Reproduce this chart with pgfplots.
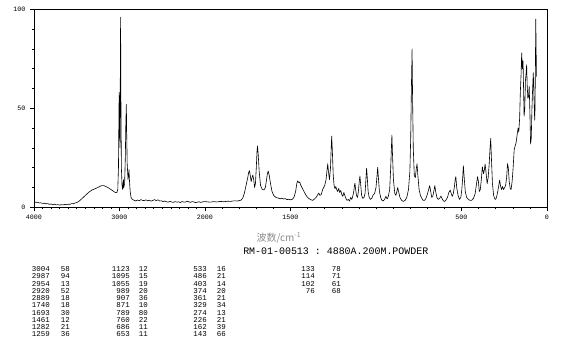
\documentclass[border=0pt]{standalone}
\usepackage{fontspec}
\setmainfont{Liberation Serif}
\setmonofont{Liberation Mono}
\newfontfamily\cjk{Noto Sans CJK SC}
\usepackage{pgfplots}
\pgfplotsset{compat=1.18}
\definecolor{lblgray}{RGB}{140,140,140}
\begin{document}
\begin{tikzpicture}
\useasboundingbox (0,0) rectangle (427.5pt,259.5pt);
\begin{axis}[
  at={(25.5pt,104.0pt)}, anchor=south west,
  scale only axis, width=384.75pt, height=148.5pt,
  x coord trafo/.code={\pgfmathparse{#1>2000 ? 2000+(#1-2000)/2 : #1}},
  x coord inv trafo/.code={\pgfmathparse{#1>2000 ? 2000+2*(#1-2000) : #1}},
  x dir=reverse,
  xmin=0, xmax=4000, ymin=0, ymax=100,
  xtick={0,500,1500,2000,3000,4000},
  xticklabels={0,500,1500,2000,3000,4000},
  minor xtick={100,200,300,400,600,700,800,900,1000,1100,1200,1300,1400,1600,1700,1800,1900,2100,2200,2300,2400,2500,2600,2700,2800,2900,3100,3200,3300,3400,3500,3600,3700,3800,3900},
  ytick={0,50,100}, yticklabels={0,50,100},
  minor ytick={10,20,30,40,60,70,80,90},
  xtick pos=lower, ytick pos=left,
  tick align=outside,
  major tick length=3pt, minor tick length=1.6pt,
  every tick/.style={black, line width=0.4pt},
  axis line style={line width=0.45pt},
  tick label style={font=\fontsize{5}{6}\selectfont\ttfamily},
  xticklabel style={yshift=1pt},
]
\addplot[black, line width=0.45pt, line join=round] table {
x y
4000 2.8
3980 2.5
3960 2.6
3940 2.2
3920 2.3
3900 2.0
3880 2.1
3860 1.8
3840 1.9
3820 1.5
3800 1.7
3780 1.3
3760 1.6
3740 1.2
3720 1.4
3700 1.1
3680 1.4
3660 1.2
3640 1.5
3620 1.3
3600 1.6
3580 1.5
3560 1.9
3540 1.8
3520 2.2
3500 2.4
3480 2.9
3460 3.6
3440 4.4
3420 5.2
3400 6.0
3380 6.8
3360 7.6
3340 8.2
3320 8.8
3300 9.1
3280 9.5
3260 9.9
3240 10.3
3220 10.8
3200 11.0
3180 10.9
3160 10.5
3140 10.1
3120 9.6
3100 9.0
3080 8.4
3060 7.8
3045 7.4
3030 7.6
3020 9
3012 20
3008 40
3004 58
3001 50
2995 30
2990 70
2987 96
2984 60
2978 20
2970 11
2963 9
2957 12
2954 14
2950 10
2940 12
2932 25
2926 42
2920 52
2916 38
2910 22
2900 14
2893 17
2889 19
2884 14
2875 8
2865 5
2850 4.0
2830 3.6
2810 3.2
2790 3.7
2770 3.3
2750 3.9
2730 3.5
2710 3.4
2690 3.8
2670 3.3
2650 3.6
2630 3.1
2610 3.5
2590 3.9
2570 3.4
2550 3.8
2530 3.2
2510 3.3
2490 2.9
2470 3.2
2450 2.8
2430 2.6
2410 3.0
2390 2.7
2370 2.5
2350 2.9
2330 2.6
2310 2.8
2290 2.4
2270 2.9
2250 2.7
2230 2.6
2210 3.1
2190 2.8
2170 2.5
2150 2.9
2130 2.7
2110 2.4
2090 2.6
2070 2.8
2050 2.5
2030 2.7
2010 2.9
1990 2.8
1970 2.6
1950 2.9
1930 2.7
1910 3.0
1890 2.8
1870 3.1
1850 3.0
1830 3.3
1810 3.2
1790 3.6
1780 4.5
1770 7
1760 11
1750 15
1745 17.5
1740 18.5
1735 16
1730 13
1725 15
1720 16.3
1715 14
1710 10
1705 12
1700 20
1696 28
1693 31
1689 27
1683 18
1675 11
1665 9
1655 8.8
1647 10
1640 14
1635 17
1630 18.3
1624 16
1617 12
1608 8
1598 6
1585 5
1570 4.6
1560 4.3
1550 4.6
1540 4.2
1530 4.4
1520 3.9
1510 4.1
1500 3.8
1490 4.0
1480 5.0
1470 8
1463 12
1458 13.4
1452 12.5
1446 12.8
1440 11.2
1430 9.5
1420 7.8
1410 6.2
1400 5.0
1390 4.3
1380 3.8
1370 3.5
1360 4.2
1350 5.0
1340 6.5
1335 7.2
1328 6.0
1320 6.5
1312 9.0
1300 11.0
1292 14
1286 19
1282 22
1278 18
1272 14
1266 20
1262 30
1259 36
1255 28
1250 16
1245 11
1240 9.5
1235 10.5
1230 9.0
1224 8.0
1218 9.5
1212 7.5
1206 8.5
1200 6.5
1194 5.5
1188 7.5
1182 6.0
1176 4.5
1170 3.5
1162 4.0
1155 3.2
1148 5.0
1142 4.0
1136 5.5
1130 8
1126 11
1123 12.2
1119 9
1114 6
1108 5
1103 8
1098 13
1094 15.8
1090 12
1084 6
1077 4.5
1070 5.0
1064 7
1059 14
1055 19.7
1051 15
1046 8
1040 5
1032 4
1025 4.5
1018 6
1008 7
1000 10
994 16
990 20.2
986 15
980 8
972 4.8
965 3.5
958 3.2
950 4.0
942 5.5
935 4.2
928 5.5
920 9
914 20
910 30
907 36.5
904 28
898 14
890 7
884 6
878 8
873 10
868 8
860 5
850 3.5
840 3.0
830 3.5
820 5
810 9
802 18
797 35
793 60
789 80
786 55
782 30
776 16
770 15
765 19
760 22
756 17
748 9
740 6
732 4.5
724 3.5
716 3.5
708 4.5
700 6.5
692 9
686 11
680 8
674 5
668 5.5
662 8
656 11
651 8
644 5
636 4
628 4.5
620 5.7
613 4.3
605 3.2
598 3.0
590 3.8
582 5
574 7.5
566 8.7
560 7
554 5.5
548 7
542 10
537 14
533 15.5
528 10
520 6
512 4
504 5
498 9
493 15
489 21
485 16
478 8
470 5
460 4
450 3.5
440 3.6
430 4.5
420 7
412 12
406 15.5
401 13
396 8
390 9
384 14
378 20.5
371 17
366 19
362 21.9
357 18
350 12
344 15
338 22
333 30
329 34.8
325 25
319 12
312 6
305 4.2
300 4
294 5.5
288 8
282 11
277 13.8
272 11
266 9
260 10.5
254 9
248 10
242 11
236 15
231 22
226 20
221 13
215 9.5
210 9
204 13
198 20
192 29
186 31
180 33
174 37
169 40
165 38
160 45
156 58
152 66
148 78
144 70
140 74
137 60
134 46
130 50
126 64
122 68
119 72
116 62
112 55
108 56
104 61
100 48
96 32
92 35
88 50
84 60
80 68
76 55
72 44
70 50
67 80
66 95
64 85
62 66
};
\end{axis}
\begin{scope}[x=0.75pt,y=-0.75pt,shift={(0,259.5pt)}]
\node[text=lblgray, font=\fontsize{7.5}{9}\selectfont\cjk, inner sep=0] at (279,238) {波数/cm\textsuperscript{-1}};
\node[font=\fontsize{7.46}{9}\selectfont\ttfamily, inner sep=0, anchor=base west] at (243,254.5) {RM-01-00513 : 4880A.200M.POWDER};
\tikzset{tab/.style={font=\fontsize{5.6}{5.44}\selectfont\ttfamily, inner sep=0, anchor=base east}}
\node[tab] at (50,271.5) {\begin{tabular}[t]{@{}r@{}}3004\\2987\\2954\\2920\\2889\\1740\\1693\\1461\\1282\\1259\end{tabular}};
\node[tab] at (70,271.5) {\begin{tabular}[t]{@{}r@{}}58\\94\\13\\52\\18\\18\\30\\12\\21\\36\end{tabular}};
\node[tab] at (130,271.5) {\begin{tabular}[t]{@{}r@{}}1123\\1095\\1055\\989\\907\\871\\789\\760\\686\\653\end{tabular}};
\node[tab] at (148,271.5) {\begin{tabular}[t]{@{}r@{}}12\\15\\19\\20\\36\\10\\80\\22\\11\\11\end{tabular}};
\node[tab] at (207,271.5) {\begin{tabular}[t]{@{}r@{}}533\\486\\403\\374\\361\\329\\274\\226\\162\\143\end{tabular}};
\node[tab] at (226,271.5) {\begin{tabular}[t]{@{}r@{}}16\\21\\14\\20\\21\\34\\13\\21\\39\\66\end{tabular}};
\node[tab] at (315,271.5) {\begin{tabular}[t]{@{}r@{}}133\\114\\102\\76\end{tabular}};
\node[tab] at (341,271.5) {\begin{tabular}[t]{@{}r@{}}78\\71\\61\\68\end{tabular}};
\end{scope}
\end{tikzpicture}
\end{document}
